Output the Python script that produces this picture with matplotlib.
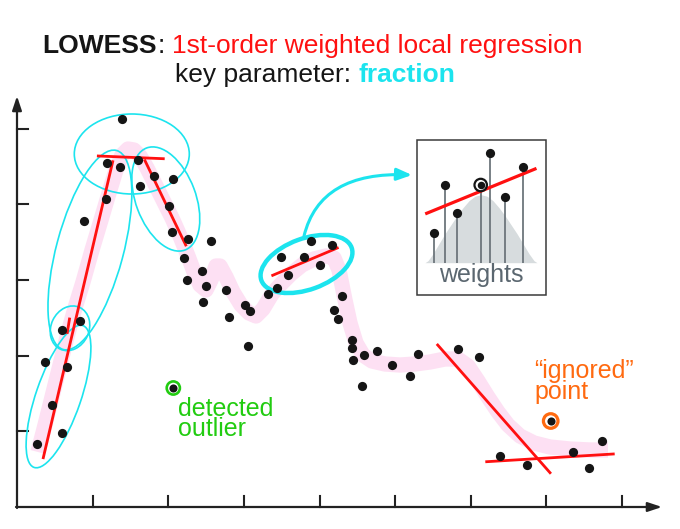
import numpy as np
import matplotlib.pyplot as plt
from matplotlib.patches import Ellipse, Rectangle, FancyArrowPatch
from matplotlib.path import Path

plt.rcParams['font.family'] = ['Liberation Sans', 'DejaVu Sans']

# scattered data (chart units, origin at the axis corner)
pts_x = [20.3, 44.7, 34.7, 28, 50, 44.7, 63, 67, 88.7, 89.7, 103.3, 105.3, 121, 123,
         137, 156.3, 152, 154.7, 171, 193.7, 167.3, 170.3, 185, 188.7, 185.7, 209,
         228, 233, 212.3, 231.3, 250.7, 260, 271.3, 264, 287.3, 293.7, 303, 314.7,
         325.3, 317.3, 321.3, 334.5, 334.5, 336.3, 347, 360.3, 345, 375, 393.3,
         401.3, 441.3, 462.3, 483, 510.3, 556.3, 572.3, 585.3]
pts_y = [63, 73.7, 102, 144.7, 139.7, 177, 186.3, 286.3, 308.3, 343.7, 339.7, 387.7,
         347, 321, 331, 328.3, 301, 275, 267.7, 266.3, 249.3, 226.7, 236.3, 221,
         205.3, 216.7, 202, 196.3, 190.3, 161.3, 212.7, 218.7, 232, 249.7, 249.7,
         266, 242, 262, 210.7, 197, 188, 167, 159, 147, 151.7, 156, 121, 142.3,
         130.7, 152.7, 157.7, 150, 51.3, 42.3, 54.7, 39, 66]
outlier = (156.3, 119)
ignored = (533.7, 86)

# LOWESS curve (pink band)
curve_x = [21, 28, 35, 43, 50, 58, 66, 75, 84, 92, 99, 105, 111, 117, 123, 130, 138,
           146, 155, 163, 171, 177, 183, 189, 194, 199, 203, 209, 216, 224, 232, 239,
           246, 255, 264, 274, 285, 297, 309, 317, 322, 325, 328, 333, 339, 346, 355,
           368, 383, 398, 413, 428, 441, 451, 461, 471, 481, 491, 503, 517, 533, 553,
           573, 591]
curve_y = [55, 82, 110, 142, 170, 199, 225, 257, 287, 314, 337, 352, 358, 357, 351,
           339, 323, 307, 289, 271, 251, 235, 222, 217, 227, 241, 241, 230, 215, 202,
           194, 191, 198, 213, 223, 233, 242, 248, 251, 249, 237, 222, 207, 184, 164,
           152, 146, 143, 142, 143, 145, 148, 148, 141, 126, 110, 95, 82, 71, 64, 60,
           58, 57, 57]

# local linear fits
fits = [((26.3, 95.7), (49.3, 345.3)),
        ((50.3, 52.5), (174.5, 188)),
        ((81.3, 146.3), (351, 348.3)),
        ((128, 168.7), (346.3, 262)),
        ((255.7, 320.3), (231.7, 259)),
        ((420.7, 533), (162, 34.3)),
        ((469.7, 596.3), (45.3, 53))]

# local windows: centre x, centre y, width, height, angle
windows = [(114.8, 353, 115, 80, 0),
           (72.9, 257, 206, 67, 75),
           (148.8, 308, 109, 60, -69.4),
           (53, 178.7, 46, 38, 65),
           (41.5, 110.5, 150, 45, 71)]
window_hl = (289.5, 243, 96, 51, 20)

# inset
ins_x = [416.7, 428, 439.7, 463.7, 473.3, 488, 506]
ins_y = [273.7, 321.7, 294.3, 322, 354, 310, 340]
ins_base = 244.3
ins_fit = ((409.7, 518), (293.7, 338))
bell_x = [408, 411, 416, 422, 428, 434, 440, 446, 452, 458, 464, 470, 476, 482, 488,
          494, 500, 506, 512, 517, 520]
bell_h = [0, 2, 9, 19, 29, 38, 47, 55, 62, 66.5, 68, 66.5, 62, 55, 47, 38, 29, 19, 9,
          2, 0]

xticks = [76, 151, 227, 303, 378, 454, 529, 605]
yticks = [76, 151, 227, 303, 378]

cyan = '#1ce4ee'
red = '#ff1010'

fig = plt.figure(figsize=(6.8, 5.29), dpi=100)
ax = fig.add_axes([0, 0, 1, 1])
ax.set_xlim(-17, 663)
ax.set_ylim(-22, 507)
ax.axis('off')

# axes with arrows
ax.annotate('', xy=(0, 411), xytext=(0, -1),
            arrowprops=dict(arrowstyle='-|>,head_length=0.6,head_width=0.2',
                            color='#222222', lw=1.6, mutation_scale=14, shrinkA=0, shrinkB=0))
ax.annotate('', xy=(645, 0), xytext=(-1, 0),
            arrowprops=dict(arrowstyle='-|>,head_length=0.6,head_width=0.2',
                            color='#222222', lw=1.6, mutation_scale=14, shrinkA=0, shrinkB=0))
for t in xticks:
    ax.plot([t, t], [0, 11], color='#222222', lw=1.5)
for t in yticks:
    ax.plot([0, 11], [t, t], color='#222222', lw=1.5)

ax.plot(curve_x, curve_y, color='#fde0f3', lw=11, solid_joinstyle='round',
        solid_capstyle='butt', zorder=1)

for cx, cy, w, h, a in windows:
    ax.add_patch(Ellipse((cx, cy), w, h, angle=a, fill=False, ec=cyan, lw=1.2, zorder=3))
cx, cy, w, h, a = window_hl
ax.add_patch(Ellipse((cx, cy), w, h, angle=a, fill=False, ec=cyan, lw=3.2, zorder=3))

for fx, fy in fits:
    ax.plot(fx, fy, color=red, lw=2, zorder=4)

ax.scatter(pts_x, pts_y, s=44, color='#151515', zorder=5, lw=0)

ax.scatter(*outlier, s=34, color='#151515', zorder=5, lw=0)
ax.scatter(*outlier, s=90, facecolors='none', edgecolors='#22cc11', lw=1.9, zorder=5)
ax.scatter(*ignored, s=34, color='#151515', zorder=5, lw=0)
ax.scatter(*ignored, s=110, facecolors='none', edgecolors='#ff6a10', lw=2.3, zorder=5)

ax.text(161.3, 71.3, 'detected\noutlier', color='#22cc11', fontsize=18,
        va='baseline', linespacing=0.75)
ax.text(517, 107.7, '\u201cignored\u201d\npoint', color='#ff6a10', fontsize=18,
        va='baseline', linespacing=0.86)

# connector to inset
arrow_path = Path([(287, 271), (303, 336), (395, 332)],
                  [Path.MOVETO, Path.CURVE3, Path.CURVE3])
ax.add_patch(FancyArrowPatch(path=arrow_path, arrowstyle='-|>,head_length=0.5,head_width=0.2',
                             mutation_scale=18, color=cyan, lw=2.2, zorder=3))

# inset box
ax.add_patch(Rectangle((400.3, 212.3), 128.4, 154.7, fc='white', ec='#3a3a3a', lw=1.1, zorder=6))
ax.fill_between(bell_x, ins_base, [ins_base + h for h in bell_h], color='#d7dcde', lw=0, zorder=7)
ax.vlines(ins_x, ins_base, ins_y, color='#6d767c', lw=1.3, zorder=8)
ax.plot(ins_fit[0], ins_fit[1], color=red, lw=2.3, zorder=9)
ax.scatter(ins_x, ins_y, s=44, color='#151515', zorder=10, lw=0)
ax.scatter(ins_x[3], ins_y[3], s=44, color='#151515', ec='white', lw=1.2, zorder=11)
ax.scatter(ins_x[3], ins_y[3], s=80, facecolors='none', edgecolors='#151515', lw=1.6, zorder=11)
ax.text(464, 225.3, 'weights', color='#5b6770', fontsize=18, ha='center', va='baseline', zorder=11)

# title, drawn piece by piece
r = fig.canvas.get_renderer()
inv = ax.transData.inverted()


def width_of(s, **kw):
    t = ax.text(0, 0, s, **kw)
    bb = t.get_window_extent(renderer=r)
    t.remove()
    return inv.transform((bb.x1, 0))[0] - inv.transform((bb.x0, 0))[0]


def rich(x, y, parts, size):
    for s, color, weight, gap in parts:
        t = ax.text(x, y, s, color=color, fontweight=weight, fontsize=size, va='baseline')
        bb = t.get_window_extent(renderer=r)
        x = inv.transform((bb.x1, bb.y0))[0]
        if gap:
            x += width_of('x x', fontsize=size) - width_of('xx', fontsize=size)


rich(25.7, 453.7, [('LOWESS', '#151515', 'bold', False),
                   (':', '#151515', 'normal', True),
                   ('1st-order weighted local regression', red, 'normal', False)], 19)
rich(158, 425.3, [('key parameter:', '#151515', 'normal', True),
                  ('fraction', cyan, 'bold', False)], 19)

fig.savefig('out.png', dpi=100)
